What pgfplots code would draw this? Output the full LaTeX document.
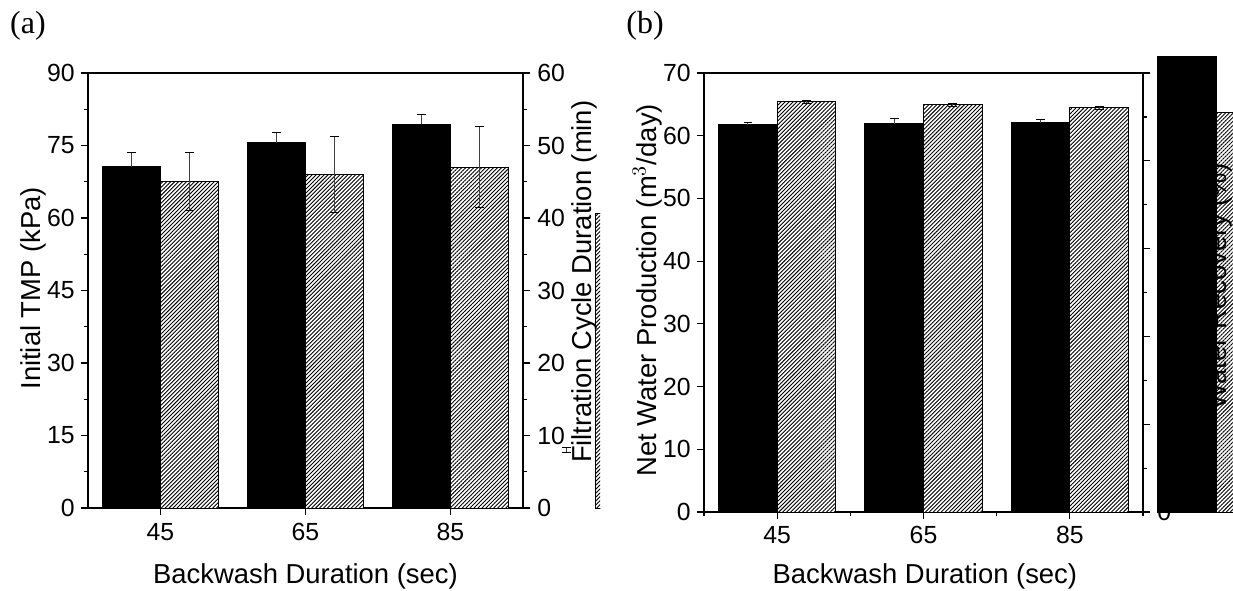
\documentclass[border=0pt]{standalone}
\usepackage{pgfplots}
\pgfplotsset{compat=1.18}
\usepackage{fontspec}
\setmainfont{Liberation Sans}
\newfontfamily\panelfont{Liberation Serif}
\usetikzlibrary{patterns.meta}

\pgfplotsset{
  bw base/.style={
    scale only axis, anchor=south west,
    xmin=-0.5, xmax=2.5,
    ybar, bar width=0.4,
    tick align=outside,
    major tick length=3.7pt, minor tick length=2pt,
    every tick/.style={black, line width=0.6pt},
    axis line style={black, line width=0.6pt},
    /pgf/number format/assume math mode=true,
    tick label style={font=\fontsize{12.4pt}{14pt}\selectfont},
    label style={font=\fontsize{13.7pt}{16pt}\selectfont},
    xticklabel style={anchor=base, inner sep=0pt, yshift=-12.3pt},
    error bars/y dir=both, error bars/y explicit,
    error bars/error bar style={draw=black!75, line width=0.5pt, mark size=2.2pt},
  },
  left side/.style={
    bw base, xtick pos=bottom, ytick pos=left,
    xtick={0,1,2}, xticklabels={45,65,85},
    yticklabel style={anchor=east, inner sep=0pt, xshift=-2.8pt},
  },
  right side/.style={
    bw base, axis x line=none, axis y line*=right,
    yticklabel style={anchor=west, inner sep=0pt, xshift=3.3pt},
  },
  solidbar/.style={fill=black, draw=black, line width=0.5pt, bar shift=0pt},
  hatchbar/.style={fill=white, draw=black, line width=0.5pt, bar shift=0pt,
    postaction={pattern={Lines[angle=45, distance=1.4pt, line width=0.45pt]}, pattern color=black}},
}

\begin{document}
\begin{tikzpicture}

% ---------- (a) initial TMP and filtration cycle duration ----------
\begin{scope}
\clip (0,0) rectangle (300pt,295pt);
\begin{axis}[left side, at={(44pt,41pt)}, width=217.5pt, height=217.5pt,
  ymin=0, ymax=90, ytick={0,15,...,90}, minor y tick num=1,
  xlabel={Backwash Duration (sec)}, ylabel={Initial TMP (kPa)},
  xlabel style={at={(axis description cs:0.5,-0.1747)}, anchor=base},
  ylabel style={at={(axis description cs:-0.1103,0.505)}, anchor=base}]
\addplot[solidbar, error bars/y dir=plus] coordinates {
  (-0.2,70.6) +- (0,2.9)
  ( 0.8,75.6) +- (0,2.1)
  ( 1.8,79.4) +- (0,2.1)
};
\end{axis}
\begin{axis}[right side, at={(44pt,41pt)}, width=217.5pt, height=217.5pt,
  clip=false,
  ymin=0, ymax=60, ytick={0,10,...,60}, minor y tick num=1,
  ylabel={Filtration Cycle Duration (min)},
  ylabel style={at={(axis description cs:1.1586,0.52)}, anchor=base}]
\addplot[hatchbar] coordinates {
  (0.2,45.0) +- (0,4.0)
  (1.2,46.0) +- (0,5.2)
  (2.2,47.0) +- (0,5.6)
};
\addplot[hatchbar] coordinates {(3.2,40.6) +- (0,0)};
\addplot[draw=none, fill=none, bar shift=0pt] coordinates {(2.8,8.0) +- (0,0.3)};
\end{axis}
\end{scope}

% ---------- (b) net water production and water recovery ----------
\begin{axis}[left side, at={(352pt,39pt)}, width=219.5pt, height=219.5pt,
  clip=false,
  ymin=0, ymax=70, ytick={0,10,...,70},
  minor xtick={-0.5,0.5,1.5,2.5},
  xlabel={Backwash Duration (sec)}, ylabel={Net Water Production (m$^3$/day)},
  xlabel style={at={(axis description cs:0.503,-0.164)}, anchor=base},
  ylabel style={at={(axis description cs:-0.109,0.505)}, anchor=base}]
\addplot[solidbar, error bars/y dir=plus] coordinates {
  (-0.2,61.76) +- (0,0.43)
  ( 0.8,61.92) +- (0,0.80)
  ( 1.8,62.08) +- (0,0.54)
};
\addplot[solidbar] coordinates {(2.8,72.6) +- (0,0)};
\end{axis}
\begin{axis}[right side, at={(352pt,39pt)}, width=219.5pt, height=219.5pt,
  clip=false,
  ymin=0, ymax=100, ytick={0,20,...,100}, minor y tick num=1,
  ylabel={Water Recovery (\%)},
  ylabel style={at={(axis description cs:1.19,0.514)}, anchor=base}]
\addplot[hatchbar] coordinates {
  (0.2,93.46) +- (0,0.4)
  (1.2,92.78) +- (0,0.4)
  (2.2,92.10) +- (0,0.3)
};
\addplot[hatchbar] coordinates {(3.2,90.9) +- (0,0)};
\end{axis}

% panel letters
\node[font=\panelfont\fontsize{16pt}{18pt}\selectfont] at (14pt,282pt) {(a)};
\node[font=\panelfont\fontsize{16pt}{18pt}\selectfont] at (322.5pt,282pt) {(b)};

\pgfresetboundingbox
\useasboundingbox (0,0) rectangle (616.5pt,295pt);
\end{tikzpicture}
\end{document}
